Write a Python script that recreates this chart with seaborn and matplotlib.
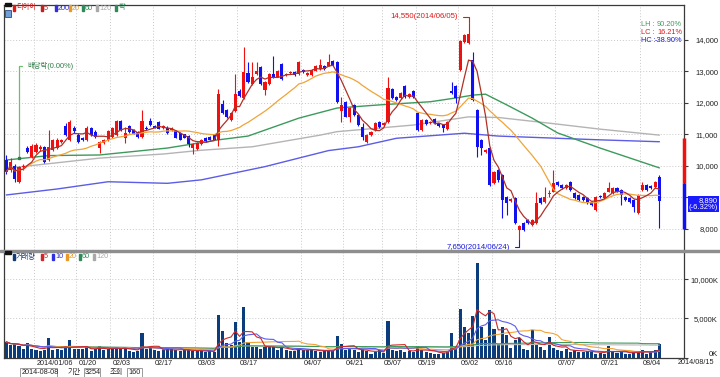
import numpy as np
import pandas as pd
import matplotlib
matplotlib.use("Agg")
import matplotlib.pyplot as plt
import matplotlib.transforms as mtransforms
from matplotlib.patches import Rectangle
import seaborn as sns

# ------------------------------------------------------------------ data
holidays = ["2013-12-25", "2013-12-31", "2014-01-01", "2014-01-30", "2014-01-31",
            "2014-05-01", "2014-05-05", "2014-05-06", "2014-06-04", "2014-06-06"]
dates = pd.bdate_range("2013-12-23", "2014-08-08", freq="C", holidays=holidays)

opens = [10190, 9870, 10000, 9500, 9960, 10560, 10300, 10450, 10530, 10610,
         10190, 10500, 10560, 10770, 11270, 10820, 11220, 10980, 10880, 10820,
         11220, 11090, 10560, 10720, 10840, 10930, 10980, 11420, 10900, 11270,
         11140, 11090, 10930, 11220, 11430, 11270, 11400, 11210, 11220, 11150,
         11100, 11050, 11000, 10950, 10560, 10550, 10690, 10900, 10930, 11000,
         10840, 11970, 11780, 11470, 11730, 12390, 12150, 12950, 12610, 12930,
         13140, 12400, 12610, 12930, 12840, 13240, 12880, 12940, 12980, 12930,
         13060, 12900, 12900, 13030, 13080, 13190, 13190, 13320, 13310, 11730,
         12040, 11570, 11940, 11620, 11250, 10770, 10980, 11150, 11410, 11300,
         11410, 12440, 12180, 12150, 12550, 12180, 12390, 11670, 11140, 11460,
         11350, 11480, 11350, 11300, 11160, 12390, 12540, 13050, 13950, 13900,
         13370, 11780, 10830, 10430, 10560, 9450, 9870, 9710, 9030, 8900,
         8970, 7970, 8200, 8290, 8130, 8180, 8970, 8870, 9110, 9190,
         9500, 9400, 9290, 9500, 9150, 9080, 9030, 8970, 8870, 8600,
         9050, 8970, 9190, 9150, 9290, 9240, 9030, 8970, 8920, 8500,
         9240, 9400, 9360, 9340, 9660]
highs = [10350, 10240, 10060, 10000, 10060, 10650, 10700, 10720, 10660, 10650,
         11140, 10850, 10880, 10870, 11350, 11460, 11260, 11050, 10920, 11270,
         11250, 11150, 10800, 10860, 11150, 11250, 11450, 11460, 11250, 11300,
         11180, 11120, 11770, 11260, 11520, 11300, 11430, 11300, 11260, 11230,
         11140, 11080, 11030, 10980, 10720, 10770, 10870, 10930, 10960, 11030,
         12460, 12100, 11820, 11720, 12930, 12450, 13780, 13290, 13290, 13290,
         13170, 12700, 12960, 13500, 13060, 13270, 12960, 13000, 13010, 13320,
         13090, 12980, 13090, 13220, 13400, 13220, 13550, 13360, 13340, 12200,
         12070, 11860, 11970, 11650, 11350, 11010, 11120, 11390, 11440, 11410,
         12840, 12470, 12210, 12360, 12580, 12320, 12420, 11700, 11490, 11490,
         11440, 11510, 11380, 11330, 11440, 12680, 12570, 14010, 14190, 14550,
         13630, 11810, 10860, 10540, 10590, 9850, 9900, 9740, 9060, 8980,
         9000, 8130, 8230, 8320, 8320, 9190, 9000, 9340, 9240, 9870,
         9530, 9430, 9430, 9530, 9180, 9110, 9060, 9000, 8900, 9060,
         9080, 9180, 9500, 9320, 9320, 9270, 9060, 9000, 8950, 9110,
         9500, 9430, 9390, 9520, 9700]
lows = [9750, 9820, 9500, 9470, 9880, 10400, 10250, 10400, 10480, 10100,
        10150, 10480, 10530, 10740, 10950, 10780, 11050, 10720, 10780, 10780,
        10950, 10880, 10400, 10690, 10800, 10900, 10950, 11100, 10720, 11050,
        11000, 10900, 10880, 11130, 11280, 11200, 11160, 11180, 11030, 11120,
        10880, 10820, 10880, 10600, 10370, 10520, 10660, 10760, 10810, 10810,
        10640, 11650, 11520, 11440, 11700, 12200, 12120, 12640, 12580, 12900,
        12580, 12250, 12580, 12790, 12810, 12740, 12850, 12910, 12870, 12900,
        12950, 12870, 12870, 13000, 13050, 13050, 13160, 13190, 12010, 11410,
        11540, 11410, 11590, 11270, 10820, 10740, 10950, 11120, 11220, 11270,
        11380, 12120, 12070, 12120, 12170, 12150, 12170, 11110, 11110, 11300,
        11320, 11320, 11240, 11090, 11130, 12300, 11990, 13020, 13920, 13870,
        12070, 10300, 10350, 10400, 9370, 9420, 9500, 8340, 8450, 8870,
        8150, 7650, 7940, 8150, 8100, 8150, 8790, 8840, 9030, 9160,
        9370, 9260, 9260, 9210, 8940, 8890, 8890, 8790, 8730, 8570,
        8980, 8940, 9160, 9120, 9160, 8760, 8890, 8840, 8550, 8470,
        9210, 9210, 9260, 9310, 8020]
closes = [9820, 10140, 9580, 9960, 9990, 10450, 10630, 10660, 10610, 10140,
          10590, 10820, 10840, 10840, 10980, 11400, 11120, 10770, 10820, 11220,
          10980, 10930, 10770, 10820, 11120, 11220, 11420, 11140, 11050, 11090,
          11030, 10930, 11430, 11160, 11300, 11220, 11190, 11260, 11050, 11200,
          10900, 10840, 10900, 10690, 10690, 10740, 10840, 10790, 10840, 10840,
          12300, 11680, 11550, 11680, 12280, 12230, 12980, 12670, 12820, 13030,
          12610, 12670, 12930, 12820, 13030, 12770, 12930, 12970, 12900, 13290,
          12980, 12950, 13060, 13190, 13210, 13080, 13300, 13220, 12040, 11940,
          11570, 11830, 11620, 11300, 10930, 10980, 11090, 11360, 11250, 11380,
          12470, 12150, 12100, 12330, 12200, 12290, 12200, 11140, 11460, 11330,
          11410, 11350, 11270, 11200, 11410, 12330, 12150, 13980, 14160, 14190,
          12100, 10610, 10560, 10510, 9400, 9820, 9560, 8920, 8820, 8950,
          8180, 8080, 7970, 8180, 8290, 8820, 8820, 9030, 9140, 9450,
          9400, 9290, 9400, 9240, 8970, 8920, 8920, 8820, 8760, 9030,
          9010, 9150, 9290, 9290, 9190, 9080, 8920, 8870, 8710, 9080,
          9400, 9240, 9290, 9490, 8890]
volumes_k = [2000, 1580, 1700, 1500, 1070, 1920, 1070, 980, 850, 980,
             2560, 940, 1070, 980, 1280, 2220, 1150, 1150, 1070, 1410,
             850, 1070, 1500, 980, 1150, 1200, 1240, 1150, 1240, 850,
             730, 850, 3120, 1070, 1240, 940, 770, 980, 1070, 1150,
             940, 850, 980, 940, 850, 810, 810, 730, 810, 730,
             5500, 3420, 1920, 1580, 4610, 2000, 6500, 1950, 1350, 1400,
             1150, 1400, 1450, 1400, 900, 1350, 900, 870, 870, 1280,
             900, 900, 1050, 800, 720, 900, 830, 780, 2730, 1790,
             940, 1150, 940, 730, 1150, 810, 510, 730, 940, 600,
             4650, 1020, 850, 1020, 730, 850, 730, 1450, 1020, 730,
             600, 510, 510, 600, 730, 3200, 1280, 6170, 3900, 3160,
             5300, 12130, 3900, 2220, 6100, 3710, 1790, 3930, 2860, 1280,
             2220, 2560, 1150, 940, 3500, 1580, 1370, 940, 2650, 1280,
             940, 850, 1150, 730, 940, 730, 730, 850, 730, 510,
             600, 510, 1450, 730, 600, 730, 510, 510, 730, 730,
             1020, 510, 730, 940, 1710]

# long moving averages of price (index, value)
ma60_idx = [0, 10, 22, 38, 50, 57, 69, 78, 88, 100, 106, 110, 113, 118, 124, 130, 140, 154]
ma60_val = [10190, 10330, 10350, 10570, 10830, 10950, 11520, 11840, 11940, 12040,
            12160, 12250, 12280, 11940, 11520, 11050, 10570, 9940]
ma120_idx = [0, 3, 22, 37, 46, 58, 74, 78, 96, 109, 116, 128, 140, 154]
ma120_val = [9950, 9970, 10250, 10380, 10500, 10610, 10980, 11090, 11300, 11560,
             11540, 11360, 11170, 10980]
ma200_idx = [0, 12, 24, 38, 46, 61, 76, 83, 92, 108, 116, 140, 154]
ma200_val = [9080, 9270, 9500, 9450, 9560, 9980, 10490, 10610, 10880, 11040, 10950, 10830, 10770]

tick_dates = ["2014-01-06", "2014-01-20", "2014-02-03", "2014-02-17", "2014-03-03",
              "2014-03-17", "2014-04-07", "2014-04-21", "2014-05-07", "2014-05-19",
              "2014-06-02", "2014-06-16", "2014-07-07", "2014-07-21", "2014-08-04"]
tick_labels = ["2014/01/06", "01/20", "02/03", "02/17", "03/03", "03/17", "04/07",
               "04/21", "05/07", "05/19", "06/02", "06/16", "07/07", "07/21", "08/04"]
axis_end_label = "2014/08/15"
price_ticks = [8000, 9000, 10000, 11000, 12000, 13000, 14000]
vol_ticks = [0, 5000, 10000]
exdiv_date = "2013-12-27"
exdiv_label = "배당락(0.00%)"
side_bar = [10890, 9460, 8000]   # red top, split, blue bottom

# ------------------------------------------------------------------ style
sns.set_style("white")
FAM = ["Liberation Sans", "Noto Sans CJK KR", "DejaVu Sans"]
plt.rcParams["font.family"] = FAM
KR = ["Noto Sans CJK KR", "DejaVu Sans"]

UP, DOWN = "#f01010", "#1010f0"
C_MA5, C_MA20, C_MA60, C_MA120, C_MA200 = "#b03028", "#f0a438", "#3d9a5c", "#b4b4b4", "#5c5ce6"
C_VOL = "#0b3d7c"
GRID = "#c8c8c8"
FRAME = "#3a3a3a"
TXT = "#222222"

W, H = 720, 377
fig = plt.figure(figsize=(W / 100, H / 100), dpi=100)
fig.patch.set_facecolor("white")


def fx(px):
    return px / W


def fy(py):
    return 1 - py / H


ax = fig.add_axes([fx(4), fy(250), fx(684) - fx(4), fy(5) - fy(250)])
axv = fig.add_axes([fx(4), fy(357.5), fx(684) - fx(4), fy(252) - fy(357.5)])

n = len(closes)
xs = np.arange(n)
o = np.array(opens, float)
h = np.array(highs, float)
l = np.array(lows, float)
c = np.array(closes, float)
v = np.array(volumes_k, float)
cols = np.where(c >= o, UP, DOWN)

XL = (-0.54, 159.8)
tick_pos = np.array([dates.get_loc(pd.Timestamp(d)) for d in tick_dates]) - 0.5

# ------------------------------------------------------------------ price panel
for a in (ax, axv):
    a.set_xlim(*XL)
    a.set_xticks(tick_pos)
    a.grid(True, color=GRID, linestyle=(0, (1, 2)), linewidth=0.7)
    a.set_axisbelow(True)
    a.set_facecolor("white")

ax.set_ylim(7333, 15111)
ax.set_yticks(price_ticks)
ax.set_yticklabels([f"{t:,}" for t in price_ticks])

ax.vlines(xs, l, h, colors=cols, linewidth=0.8, zorder=3)
body = np.maximum(np.abs(c - o), 30)
ax.bar(xs, body, bottom=np.minimum(o, c), width=0.72, color=cols, linewidth=0, zorder=4)

ma5 = pd.Series(c).rolling(5, min_periods=1).mean()
ma20 = pd.Series(c).rolling(20, min_periods=1).mean()


def line(a, x, y, color, lw=0.9, z=5):
    sns.lineplot(x=np.asarray(x, float), y=np.asarray(y, float), ax=a, color=color,
                 linewidth=lw, estimator=None, sort=False, legend=False, zorder=z)


line(ax, ma200_idx, ma200_val, C_MA200, 1.0, 2)
line(ax, ma120_idx, ma120_val, C_MA120, 1.0, 2)
line(ax, ma60_idx, ma60_val, C_MA60, 1.0, 2)
line(ax, xs, ma20, C_MA20, 0.9, 5)
line(ax, xs, ma5, C_MA5, 0.9, 6)
ax.set_xlabel("")
ax.set_ylabel("")

# ------------------------------------------------------------------ volume panel
axv.bar(xs, v, width=0.72, color=C_VOL, linewidth=0, zorder=3)
vs = pd.Series(v)
for win, col in [(120, "#b8b8b8"), (60, "#3d9a5c"), (20, "#f0a438"), (10, "#5c5cf0"), (5, "#d02828")]:
    line(axv, xs, vs.rolling(win, min_periods=1).mean(), col, 0.8, 5)
axv.set_ylim(0, 13525)
axv.set_yticks(vol_ticks)
axv.set_yticklabels([f"{t:,}K" for t in vol_ticks])
axv.set_xlabel("")
axv.set_ylabel("")

# ------------------------------------------------------------------ axes cosmetics
for a in (ax, axv):
    a.yaxis.tick_right()
    a.tick_params(axis="y", which="major", length=3, width=0.8, color=FRAME,
                  pad=21.5, labelsize=5.5, labelcolor=TXT, direction="out")
    for lab in a.get_yticklabels():
        lab.set_horizontalalignment("right")
    for s in a.spines.values():
        s.set_color(FRAME)
        s.set_linewidth(0.9)

# "0K" sits a little above its tick in the reference
up4 = mtransforms.ScaledTranslation(0, 4 / 100, fig.dpi_scale_trans)
zero_lab = axv.get_yticklabels()[0]
zero_lab.set_transform(zero_lab.get_transform() + up4)

ax.tick_params(axis="x", length=0, labelbottom=False)
ax.spines["bottom"].set_visible(False)
axv.spines["top"].set_visible(False)
axv.set_xticklabels(tick_labels)
axv.tick_params(axis="x", length=5, width=0.8, color=FRAME, direction="out",
                pad=-3, labelsize=5.2, labelcolor=TXT)
shift = mtransforms.ScaledTranslation(2.5 / 100, 0, fig.dpi_scale_trans)
for lab in axv.get_xticklabels():
    lab.set_horizontalalignment("left")
    lab.set_verticalalignment("top")
    lab.set_transform(lab.get_transform() + shift)
fig.text(fx(678), fy(362.5), axis_end_label, fontsize=5.2, color=TXT,
         ha="left", va="center")

# separator between panels
fig.patches.append(Rectangle((0, fy(252.3)), 1, fy(249.7) - fy(252.3),
                             transform=fig.transFigure, color="#8e8e8e", zorder=10))

# ------------------------------------------------------------------ annotations
hi_i = int(np.argmax(h))
lo_i = int(np.argmin(l))
hi, lo, last, prev = h[hi_i], l[lo_i], c[-1], c[-2]

ax.annotate(f"{int(hi):,}({dates[hi_i]:%Y/%m/%d})", xy=(hi_i, hi), xycoords="data",
            xytext=(-10.5, 6), textcoords="offset pixels", ha="right", va="center",
            fontsize=5.6, color="#e01818", zorder=8,
            arrowprops=dict(arrowstyle="-", color="#e01818", lw=0.8, shrinkA=1, shrinkB=0,
                            relpos=(1, 0.5), connectionstyle="angle,angleA=0,angleB=90,rad=0"))
ax.annotate(f"{int(lo):,}({dates[lo_i]:%Y/%m/%d})", xy=(lo_i, lo), xycoords="data",
            xytext=(-9, -7), textcoords="offset pixels", ha="right", va="center",
            fontsize=5.6, color="#1818e0", zorder=8, annotation_clip=False,
            arrowprops=dict(arrowstyle="-", color="#1818e0", lw=0.8, shrinkA=1, shrinkB=0,
                            relpos=(1, 0.5), connectionstyle="angle,angleA=0,angleB=90,rad=0"))
ed = dates.get_loc(pd.Timestamp(exdiv_date))
ax.annotate(exdiv_label, xy=(ed, h[ed] + 250), xycoords="data",
            xytext=(8, 92), textcoords="offset pixels", ha="left", va="center",
            fontsize=5.3, color="#2e7d46", family=FAM, zorder=8,
            arrowprops=dict(arrowstyle="-", color="#6cbf6c", lw=0.9, shrinkA=1, shrinkB=0,
                            relpos=(0, 0.5), connectionstyle="angle,angleA=0,angleB=90,rad=0"))
ax.plot([ed], [h[ed] + 250], marker="s", markersize=2, color="#2e7d46", zorder=8)

# statistics
lh = (hi - lo) / lo * 100
lc = (last - lo) / lo * 100
hc = (last - hi) / hi * 100
for k, (name, val, col) in enumerate([("LH", lh, "#3d9a5c"), ("LC", lc, "#e01818"),
                                      ("HC", hc, "#1818e0")]):
    ypx = 25 + k * 7.5
    fig.text(fx(641), fy(ypx), f"{name} :", fontsize=5.3, color=col, ha="left", va="center")
    fig.text(fx(682), fy(ypx), f"{val:.2f}%", fontsize=5.3, color=col, ha="right", va="center")

# last price box
pct = (last - prev) / prev * 100
ax.annotate(f"{int(last):,}\n({pct:.2f}%)", xy=(1.0, last), xycoords=ax.get_yaxis_transform(),
            xytext=(34, 4), textcoords="offset pixels", ha="right", va="top",
            multialignment="right", fontsize=5.5, color="white", linespacing=1.05,
            annotation_clip=False, zorder=9,
            bbox=dict(boxstyle="square,pad=0.12", fc="#1a1aff", ec="none"))

# side bar at right edge
ax.vlines([XL[1]], side_bar[1], side_bar[0], colors=UP, linewidth=2.5, clip_on=False, zorder=7)
ax.vlines([XL[1]], side_bar[2], side_bar[1], colors=DOWN, linewidth=2.5, clip_on=False, zorder=7)

# ------------------------------------------------------------------ legends


def legend(items, ypx):
    for sx, col, text in items:
        fig.patches.append(Rectangle((fx(sx), fy(ypx + 3)), fx(2), fy(ypx - 3) - fy(ypx + 3),
                                     transform=fig.transFigure, color=col, zorder=10))
        fig.text(fx(sx + 3), fy(ypx), text, fontsize=5.2, color=col, ha="left",
                 va="center", family=FAM, zorder=12)


legend([(13, "#e01818", "디이이"), (41, "#c02020", "5"), (55, "#3030e0", "200"),
        (69, "#e89a28", "20"), (82, "#2e8b57", "60"), (96, "#a8a8a8", "120"),
        (115, "#2e8b57", "락")], 8)
legend([(13, "#103a78", "거래량"), (41, "#d02828", "5"), (52, "#3030e0", "10"),
        (66, "#e89a28", "20"), (79, "#2e8b57", "60"), (93, "#a8a8a8", "120")], 257)

# small black handles
for ypx in (4.5, 252.5):
    fig.patches.append(Rectangle((fx(5), fy(ypx + 1.5)), fx(6), fy(ypx - 1.5) - fy(ypx + 1.5),
                                 transform=fig.transFigure, color="#111111", zorder=11))
fig.patches.append(Rectangle((fx(5), fy(17)), fx(6), fy(10) - fy(17),
                             transform=fig.transFigure, fc="#6fa0d8", ec="#2a4a80",
                             lw=0.6, zorder=11))

# ------------------------------------------------------------------ bottom toolbar
def box(x0, x1, y0, y1):
    fig.patches.append(Rectangle((fx(x0), fy(y1)), fx(x1) - fx(x0), fy(y0) - fy(y1),
                                 transform=fig.transFigure, fc="white", ec="#8a8a8a",
                                 lw=0.6, zorder=10))


box(20, 57, 367.5, 376.5)
box(84, 100, 367.5, 376.5)
box(127, 142, 367.5, 376.5)
fig.text(fx(21.5), fy(372), "2014-08-08", fontsize=5.2, color=TXT, va="center", ha="left", zorder=12)
fig.text(fx(68), fy(372), "기간", fontsize=5.2, color=TXT, va="center", ha="left", family=KR, zorder=12)
fig.text(fx(85), fy(372), "3254", fontsize=5.2, color=TXT, va="center", ha="left", zorder=12)
fig.text(fx(110), fy(372), "조회", fontsize=5.2, color=TXT, va="center", ha="left", family=KR, zorder=12)
fig.text(fx(141), fy(372), "160", fontsize=5.2, color=TXT, va="center", ha="right", zorder=12)

fig.savefig("out.png", dpi=100)
